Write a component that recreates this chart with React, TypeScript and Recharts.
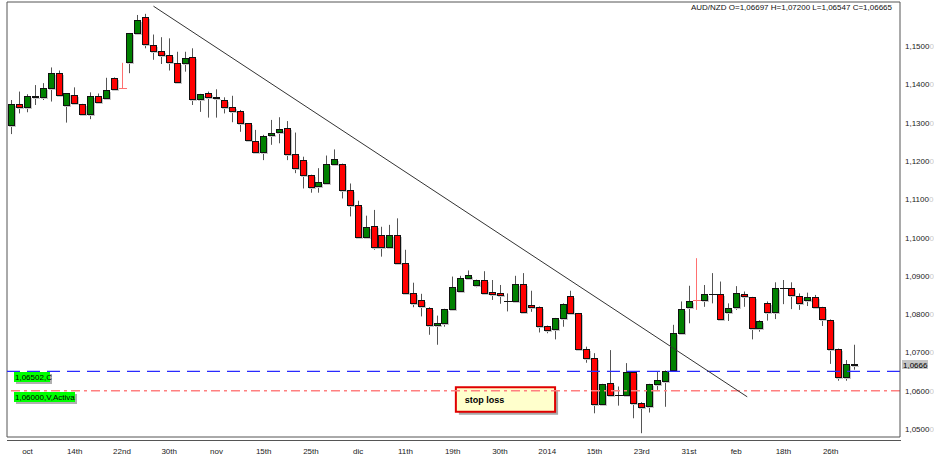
import React from 'react';
import { ComposedChart, Bar, XAxis, YAxis, ReferenceLine, ReferenceArea } from 'recharts';

// AUD/NZD daily candles, oct 2013 -> feb 2014
const opens = [
  1.1294, 1.1348, 1.1342, 1.1370, 1.1368, 1.1391, 1.1429, 1.1347, 1.1373, 1.1348,
  1.1323, 1.1370, 1.1363, 1.1417, 1.1391, 1.1457, 1.1533, 1.1575, 1.1503, 1.1487,
  1.1476, 1.1456, 1.1455, 1.1470, 1.1362, 1.1376, 1.1368, 1.1359, 1.1340, 1.1329,
  1.1298, 1.1253, 1.1222, 1.1267, 1.1276, 1.1286, 1.1219, 1.1202, 1.1163, 1.1135,
  1.1143, 1.1192, 1.1192, 1.1124, 1.1085, 1.1002, 1.1030, 1.1007, 1.0976, 1.1007,
  1.0933, 1.0856, 1.0837, 1.0817, 1.0771, 1.0776, 1.0813, 1.0860, 1.0895, 1.0876,
  1.0889, 1.0857, 1.0854, 1.0835, 1.0834, 1.0879, 1.0823, 1.0819, 1.0769, 1.0760,
  1.0789, 1.0848, 1.0802, 1.0708, 1.0686, 1.0565, 1.0621, 1.0589, 1.0589, 1.0648,
  1.0569, 1.0560, 1.0617, 1.0626, 1.0654, 1.0750, 1.0819, 1.0837, 1.0837, 1.0853,
  1.0853, 1.0806, 1.0818, 1.0852, 1.0844, 1.0763, 1.0828, 1.0806, 1.0867, 1.0867,
  1.0848, 1.0837, 1.0844, 1.0818, 1.0785, 1.0709, 1.0635, 1.06697,
];
const highs = [
  1.1359, 1.1381, 1.1374, 1.1398, 1.1403, 1.1444, 1.1436, 1.1377, 1.1392, 1.1349,
  1.1379, 1.1376, 1.1417, 1.1418, 1.1456, 1.1534, 1.1581, 1.1584, 1.1530, 1.1523,
  1.1520, 1.1485, 1.1485, 1.1494, 1.1375, 1.1381, 1.1387, 1.1366, 1.1370, 1.1333,
  1.1299, 1.1281, 1.1268, 1.1307, 1.1314, 1.1304, 1.1274, 1.1211, 1.1164, 1.1181,
  1.1214, 1.1230, 1.1193, 1.1141, 1.1096, 1.1057, 1.1072, 1.1028, 1.1033, 1.1050,
  1.0968, 1.0882, 1.0853, 1.0818, 1.0796, 1.0814, 1.0898, 1.0900, 1.0914, 1.0890,
  1.0912, 1.0889, 1.0876, 1.0854, 1.0900, 1.0907, 1.0861, 1.0820, 1.0770, 1.0790,
  1.0828, 1.0861, 1.0803, 1.0715, 1.0698, 1.0618, 1.0706, 1.0611, 1.0672, 1.0649,
  1.0570, 1.0618, 1.0650, 1.0653, 1.0772, 1.0833, 1.0874, 1.0946, 1.0876, 1.0907,
  1.0885, 1.0828, 1.0873, 1.0859, 1.0845, 1.0784, 1.0833, 1.0883, 1.0889, 1.0883,
  1.0854, 1.0856, 1.0850, 1.0819, 1.0786, 1.0710, 1.0680, 1.07200,
];
const lows = [
  1.1270, 1.1324, 1.1327, 1.1346, 1.1359, 1.1355, 1.1370, 1.1300, 1.1346, 1.1322,
  1.1309, 1.1350, 1.1359, 1.1385, 1.1389, 1.1429, 1.1529, 1.1494, 1.1464, 1.1453,
  1.1436, 1.1404, 1.1433, 1.1346, 1.1328, 1.1313, 1.1313, 1.1324, 1.1301, 1.1276,
  1.1250, 1.1221, 1.1202, 1.1242, 1.1246, 1.1202, 1.1168, 1.1128, 1.1117, 1.1117,
  1.1141, 1.1189, 1.1102, 1.1055, 1.1001, 1.1001, 1.0968, 1.0950, 1.0975, 1.0932,
  1.0855, 1.0818, 1.0794, 1.0746, 1.0720, 1.0767, 1.0812, 1.0859, 1.0889, 1.0870,
  1.0853, 1.0837, 1.0827, 1.0807, 1.0833, 1.0805, 1.0806, 1.0752, 1.0750, 1.0734,
  1.0767, 1.0801, 1.0707, 1.0673, 1.0541, 1.0560, 1.0585, 1.0561, 1.0588, 1.0528,
  1.0489, 1.0543, 1.0602, 1.0558, 1.0653, 1.0746, 1.0776, 1.0811, 1.0819, 1.0828,
  1.0785, 1.0782, 1.0811, 1.0819, 1.0734, 1.0754, 1.0783, 1.0787, 1.0826, 1.0813,
  1.0811, 1.0821, 1.0815, 1.0769, 1.0670, 1.0626, 1.0626, 1.06547,
];
const closes = [
  1.1348, 1.1340, 1.1370, 1.1367, 1.1390, 1.1429, 1.1372, 1.1376, 1.1350, 1.1323,
  1.1370, 1.1353, 1.1385, 1.1387, 1.1391, 1.1533, 1.1568, 1.1504, 1.1486, 1.1476,
  1.1457, 1.1405, 1.1468, 1.1361, 1.1374, 1.1368, 1.1363, 1.1342, 1.1329, 1.1298,
  1.1254, 1.1222, 1.1265, 1.1274, 1.1284, 1.1219, 1.1182, 1.1163, 1.1133, 1.1144,
  1.1192, 1.1204, 1.1124, 1.1085, 1.1002, 1.1028, 1.0976, 1.0976, 1.1007, 1.0933,
  1.0856, 1.0828, 1.0820, 1.0771, 1.0776, 1.0813, 1.0870, 1.0895, 1.0901, 1.0889,
  1.0854, 1.0853, 1.0850, 1.0835, 1.0879, 1.0806, 1.0819, 1.0769, 1.0759, 1.0789,
  1.0826, 1.0802, 1.0708, 1.0685, 1.0565, 1.0617, 1.0589, 1.0589, 1.0648, 1.0569,
  1.0557, 1.0617, 1.0628, 1.0652, 1.0750, 1.0813, 1.0834, 1.0837, 1.0852, 1.0853,
  1.0787, 1.0816, 1.0854, 1.0846, 1.0763, 1.0783, 1.0806, 1.0867, 1.0867, 1.0850,
  1.0828, 1.0844, 1.0819, 1.0786, 1.0709, 1.0635, 1.0670, 1.06665,
];
// sunday bars drawn as pale red crosses
const paleBars = [14, 87];

const tickIndex = [2, 8, 14, 20, 26, 32, 38, 44, 50, 56, 62, 68, 74, 80, 86, 92, 98, 104];
const tickLabels = ['oct', '14th', '22nd', '30th', 'nov', '15th', '25th', 'dic', '11th', '19th', '30th', '2014', '15th', '23rd', '31st', 'feb', '18th', '26th'];
const priceTicks = [1.05, 1.06, 1.07, 1.08, 1.09, 1.1, 1.11, 1.12, 1.13, 1.14, 1.15];

const trendLine = [{ x: 18, y: 1.1604 }, { x: 93.4, y: 1.0584 }];
const closeLevel = 1.06502;
const stopLevel = 1.06;
const stopBox = { x1: 56.4, x2: 69, y1: 1.0545, y2: 1.0609 };
const title = 'AUD/NZD O=1,06697 H=1,07200 L=1,06547 C=1,06665';

const FONT = "'Liberation Sans Narrow', 'Liberation Sans', Arial, sans-serif";

const candles = opens.map((o, i) => ({
  i,
  open: o,
  high: highs[i],
  low: lows[i],
  close: closes[i],
  pale: paleBars.includes(i),
  range: [lows[i], highs[i]],
}));

const fmt = (v: number) => v.toFixed(4).replace('.', ',');
const lastPrice = closes[closes.length - 1];
const lastLabel = (Math.floor(lastPrice * 10000) / 10000).toFixed(4).replace('.', ',');

const Candle = (props: any) => {
  const { x, y, width, height, payload } = props;
  if (y == null || isNaN(y) || !payload) return null;
  const { open, close, high, low, pale } = payload;
  const k = height / (high - low);
  const py = (v: number) => y + (high - v) * k;
  const cx = Math.round(x + width / 2);
  const wx = cx + 0.5;
  if (open === close) {
    const yy = Math.round(py(open)) + 0.5;
    const c = pale ? '#ff7070' : '#111';
    return (
      <g>
        <line x1={wx} x2={wx} y1={py(high)} y2={py(low)} stroke={pale ? '#ff7070' : '#555'} />
        <line x1={cx - 3} x2={cx + 5} y1={yy} y2={yy} stroke={c} />
      </g>
    );
  }
  const up = close > open;
  const top = Math.round(py(Math.max(open, close)));
  const bot = Math.round(py(Math.min(open, close)));
  const h = Math.max(bot - top, 1);
  return (
    <g>
      <line x1={wx} x2={wx} y1={py(high)} y2={py(low)} stroke="#555" />
      <rect x={cx - 2} y={top + 2} width={7} height={h} fill="#c8c8c8" />
      <rect x={cx - 2.5} y={top + 0.5} width={6} height={h} fill={up ? '#008000' : '#ff0000'} stroke="#111" />
    </g>
  );
};

const XTick = (props: any) => {
  const { x, y, payload } = props;
  const k = tickIndex.indexOf(payload.value);
  return (
    <text x={x} y={y + 15} textAnchor="middle" fontSize={8} fontFamily={FONT} fill="#222">
      {tickLabels[k]}
    </text>
  );
};

const YTick = (props: any) => {
  const { x, y, payload } = props;
  return (
    <text x={x + 3} y={y + 3} fontSize={8} fontFamily={FONT} fill="#222">
      {fmt(payload.value)}
      <tspan fill="#c8c8c8">0</tspan>
    </text>
  );
};

const LevelTag = (props: any) => {
  const { viewBox, text, w } = props;
  if (!viewBox) return null;
  const x = viewBox.x + 7;
  const y = Math.round(viewBox.y) + 1;
  return (
    <g>
      <rect x={x + 2} y={y + 2} width={w} height={10} fill="#b0b0b0" />
      <rect x={x} y={y} width={w} height={10} fill="#00ff00" />
      <text x={x + 1} y={y + 8} fontSize={8} fontFamily={FONT} fill="#000">{text}</text>
    </g>
  );
};

const PriceTag = (props: any) => {
  const { viewBox, text } = props;
  if (!viewBox) return null;
  const x = viewBox.x + viewBox.width + 2;
  const y = Math.round(viewBox.y) - 5;
  return (
    <g>
      <rect x={x} y={y} width={26} height={9} fill="#c4c4c4" />
      <text x={x + 1} y={y + 7.5} fontSize={8} fontFamily={FONT} fill="#000">{text}</text>
    </g>
  );
};

const StopBox = (props: any) => {
  const { x, y, width, height } = props;
  if (x == null) return null;
  return (
    <g>
      <rect x={x + 3} y={y + 3} width={width} height={height} fill="#a8a8a8" />
      <rect x={x} y={y} width={width} height={height} fill="#ffffcc" stroke="#e00000" strokeWidth={2} />
      <text x={x + 9} y={y + height / 2 + 3} fontSize={9} fontWeight="bold" fontFamily="'Liberation Sans', Arial, sans-serif" fill="#000">
        stop loss
      </text>
    </g>
  );
};

export default function App() {
  return (
    <div style={{ position: 'absolute', left: 0, top: 0, width: 934, height: 456, background: '#fff' }}>
      <ComposedChart width={934} height={456} data={candles} margin={{ top: 2, right: 0, bottom: 0, left: 7 }}>
        <XAxis
          dataKey="i"
          type="number"
          domain={[-0.6, 112.8]}
          ticks={tickIndex}
          interval={0}
          tick={<XTick />}
          tickLine={false}
          tickSize={0}
          height={19}
          axisLine={{ stroke: '#555' }}
          allowDataOverflow
        />
        <YAxis
          orientation="right"
          type="number"
          domain={[1.04791, 1.16149]}
          ticks={priceTicks}
          interval={0}
          tick={<YTick />}
          tickLine={false}
          tickSize={0}
          width={34}
          axisLine={{ stroke: '#555' }}
          allowDataOverflow
        />
        <ReferenceLine x={-0.6} stroke="#555" />
        <ReferenceLine y={1.16149} stroke="#555" />
        <ReferenceLine y={lastPrice} stroke="#ffffff" strokeOpacity={0}
          label={<PriceTag text={lastLabel} />} />
        <ReferenceLine y={stopLevel} stroke="#ff8080" strokeWidth={1.5} strokeDasharray="9 4 3 4"
          label={<LevelTag text="1,06000,V,Activa" w={61} />} />
        <ReferenceLine y={closeLevel} stroke="#2a2aff" strokeWidth={1.2} strokeDasharray="13 7"
          label={<LevelTag text="1,06502,C" w={36} />} />
        <ReferenceArea x1={stopBox.x1} x2={stopBox.x2} y1={stopBox.y1} y2={stopBox.y2} shape={<StopBox />} />
        <Bar dataKey="range" shape={Candle} barSize={7} isAnimationActive={false} />
        <ReferenceLine segment={trendLine} stroke="#333" />
      </ComposedChart>
      <div style={{ position: 'absolute', left: 7, top: 440, width: 894, height: 1, background: '#555' }} />
      <div
        style={{
          position: 'absolute', right: 42, top: 3, fontSize: 8, lineHeight: '10px',
          fontFamily: FONT, color: '#111', whiteSpace: 'nowrap',
        }}
      >
        {title}
      </div>
    </div>
  );
}
